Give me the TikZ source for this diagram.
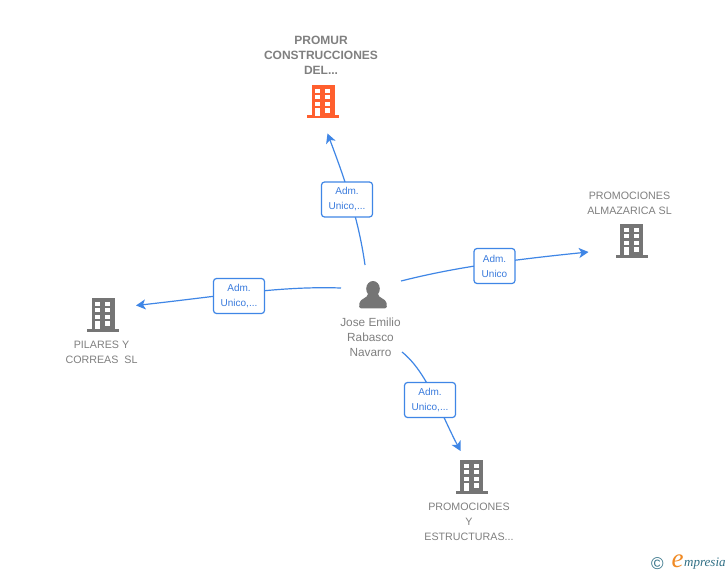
\documentclass[tikz,border=0pt]{standalone}
\usepackage{fontspec}
\setmainfont{Liberation Sans}
\newfontfamily\logofont{Liberation Serif}
\usetikzlibrary{arrows.meta}
\definecolor{linkblue}{HTML}{3F86E6}
\definecolor{labelblue}{HTML}{3A7BDD}
\definecolor{graytext}{HTML}{808080}
\definecolor{icongray}{HTML}{757575}
\definecolor{iconorange}{HTML}{FF5F2E}
\definecolor{logoteal}{HTML}{2F6F85}
\definecolor{logoorange}{HTML}{F08A24}
\tikzset{
  x=1pt,y=-1pt,
  conn/.style={draw=linkblue,line width=1.2pt,-{Stealth[length=9.5pt,width=10pt,inset=2.5pt]}},
  rolebox/.style={draw=linkblue,line width=1.2pt,fill=white,rounded corners=3pt,minimum width=51pt,minimum height=35pt,inner sep=0pt,align=center,text=labelblue,font=\fontsize{10}{15}\selectfont},
  caption/.style={align=center,text=graytext,inner sep=0pt,font=\fontsize{10.7}{15}\selectfont},
  captionbold/.style={align=center,text=graytext,inner sep=0pt,font=\fontsize{12}{15}\selectfont\bfseries},
  building/.pic={
    \fill[pic actions] (-11.5,-17) rectangle (11.5,14);
    \fill[pic actions] (-16,13.5) rectangle (16,16.5);
    \foreach \yy/\hh in {-13.3/4,-6.8/4,-0.3/4}{
      \fill[white] (-7.6,\yy) rectangle ++(4.8,\hh);
      \fill[white] (2.2,\yy) rectangle ++(5,\hh);
    }
    \fill[white] (-7.6,6.2) rectangle (-2.8,14);
    \fill[white] (2.2,6.2) rectangle (7.2,11);
  }
}
\begin{document}
\begin{tikzpicture}
\useasboundingbox (0,0) rectangle (728,575);
\fill[white] (0,0) rectangle (728,575);

% connector ends
\coordinate (s1) at (365,265);
\coordinate (e1) at (327.5,133.5);
\coordinate (s2) at (401,281);
\coordinate (e2) at (588.5,252);
\coordinate (s3) at (341,288);
\coordinate (e3) at (136,305.5);
\coordinate (s4) at (402,352);
\coordinate (e4) at (460.5,451);

% connectors
\draw[conn] (s1) .. controls (358,215) and (342,172) .. (e1);
\draw[conn] (s2) .. controls (445,270) and (490,262) .. (e2);
\draw[conn] (s3) .. controls (280,286) and (230,295) .. (e3);
\draw[conn] (s4) .. controls (427,372) and (440,412) .. (e4);

% role boxes
\node[rolebox] (r1) at (347,199.5) {Adm.\\Unico,...};
\node[rolebox,minimum width=41pt] (r2) at (494.5,266) {Adm.\\Unico};
\node[rolebox] (r3) at (239,296) {Adm.\\Unico,...};
\node[rolebox] (r4) at (430,400) {Adm.\\Unico,...};

% buildings
\pic[fill=iconorange] (promur) at (323,102) {building};
\pic[fill=icongray] (almazarica) at (631.5,241) {building};
\pic[fill=icongray] (pilares) at (103,315) {building};
\pic[fill=icongray] (estructuras) at (471.5,477) {building};

% person
\fill[icongray] (373,288.8) ellipse (6.8 and 7.8);
\fill[icongray] (368,294) .. controls (368,298) and (360,298.5) .. (359.5,303)
  -- (359.2,307) .. controls (359.2,308) and (360,308.4) .. (361,308.4)
  -- (385,308.4) .. controls (386,308.4) and (386.8,308) .. (386.8,307)
  -- (386.5,303) .. controls (386,298.5) and (378,298) .. (378,294) -- cycle;

% captions
\node[captionbold] (t1) at (321,55.5) {PROMUR\\CONSTRUCCIONES\\DEL...};
\node[caption] (t2) at (629.5,203) {PROMOCIONES\\ALMAZARICA SL};
\node[caption] (t3) at (101.5,352) {PILARES Y\\CORREAS\ \ SL};
\node[caption] (t4) at (469,522) {PROMOCIONES\\Y\\ESTRUCTURAS...};
\node[caption,font=\fontsize{11.8}{15}\selectfont] (t5) at (370.5,337) {Jose Emilio\\Rabasco\\Navarro};

% logo
\node[inner sep=0pt,text=logoteal,font=\fontsize{17}{17}\selectfont] (copy) at (657.5,564) {©};
\node[inner sep=0pt,text=logoorange,font=\logofont\fontsize{27}{27}\selectfont\itshape] (logoe) at (677.5,561.5) {e};
\node[inner sep=0pt,anchor=west,text=logoteal,font=\logofont\fontsize{13}{13}\selectfont\itshape] (logot) at (684,564) {mpresia};
\end{tikzpicture}
\end{document}
